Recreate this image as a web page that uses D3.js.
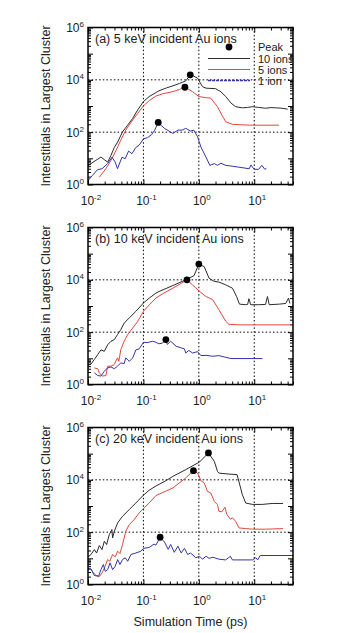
<!DOCTYPE html>
<html><head><meta charset="utf-8">
<script src="https://cdn.jsdelivr.net/npm/d3@7"></script>
<style>
html,body{margin:0;padding:0;background:#fff;}
svg text{font-family:"Liberation Sans",Arial,sans-serif;fill:#222;}
</style></head>
<body>
<svg id="chart" width="357" height="633"></svg>
<script>
// ---------------- DATA ----------------
const panelTitles = ["(a) 5 keV incident Au ions", "(b) 10 keV incident Au ions", "(c) 20 keV incident Au ions"];
const seriesNames = ["10 ions", "5 ions", "1 ion"];
const seriesColors = ["#2b2b2b", "#e0473f", "#3434a8"];
const xTickLabels = [{v:0.01,e:"-2"},{v:0.1,e:"-1"},{v:1,e:"0"},{v:10,e:"1"}];
const yTickLabels = [{v:1,e:"0"},{v:100,e:"2"},{v:1e4,e:"4"},{v:1e6,e:"6"}];

// Panel (a) 5 keV
const a_10ions = [[0.01,5.1],[0.0113,6.3],[0.0139,8.4],[0.0171,11.2],[0.0197,8.9],[0.0226,7.2],[0.026,13],[0.0298,26],[0.0343,42],[0.042,103],[0.052,186],[0.064,336],[0.0785,700],[0.1,1470],[0.127,2300],[0.168,3250],[0.19,3800],[0.26,4900],[0.34,5900],[0.45,7300],[0.58,9100],[0.70,15500],[0.80,14000],[0.95,11600],[1.05,8000],[1.16,5500],[1.35,4800],[2.0,4600],[2.5,3500],[3.06,2300],[3.8,1300],[4.6,940],[6.1,850],[7.5,880],[9.3,940],[12,880],[16,820],[20,870],[24.5,850],[30,830],[40,760]];
const a_5ions = [[0.016,1.9],[0.021,4],[0.026,8.4],[0.032,20],[0.039,49],[0.048,120],[0.064,290],[0.079,525],[0.1,1000],[0.127,1600],[0.168,2400],[0.22,2900],[0.34,3550],[0.45,4300],[0.56,5200],[0.77,3550],[1.0,2300],[1.3,2100],[1.64,1990],[2.17,940],[2.6,450],[3.06,250],[4.04,200],[6,190],[9.3,185],[28,185]];
const a_1ion = [[0.01,1.4],[0.012,2.2],[0.0149,3.7],[0.018,4],[0.0226,6.3],[0.027,11],[0.031,7.2],[0.034,4],[0.041,11],[0.047,9.7],[0.054,19],[0.062,15],[0.073,26],[0.084,32],[0.1,55],[0.119,62],[0.14,80],[0.16,120],[0.185,235],[0.21,180],[0.24,140],[0.29,110],[0.34,89],[0.42,120],[0.5,120],[0.58,140],[0.71,110],[0.81,120],[0.95,66],[1.09,27],[1.35,11],[1.58,5.4],[1.9,6.3],[2.17,5.4],[2.5,6.5],[3.06,5.4],[4,5],[5.3,4.6],[8.1,4],[8.7,5.6],[10,3.8],[12,3.8],[13.7,5.4],[15.5,3.8],[16.6,4.2]];
const a_peaks = [[0.70,15500],[0.56,5200],[0.185,235]];

// Panel (b) 10 keV
const b_10ions = [[0.01,5.5],[0.0113,6],[0.013,9],[0.015,14],[0.0171,21],[0.0197,18.6],[0.0226,33],[0.026,45],[0.0298,52],[0.034,80],[0.039,124],[0.045,224],[0.0556,350],[0.073,620],[0.1,1300],[0.127,2000],[0.168,3100],[0.19,3560],[0.34,6050],[0.58,10000],[0.82,14500],[1.0,40000],[1.25,32000],[1.53,11500],[1.9,8700],[2.3,8200],[3.06,6400],[4.04,4800],[4.8,2300],[5.4,1180],[7.0,1120],[7.6,1150],[8.0,1900],[8.6,1120],[12,1120],[16,1150],[17.3,2300],[18.6,1120],[28.5,1180],[37,1250],[41.5,2000],[44,1250]];
const b_5ions = [[0.013,4.3],[0.015,4],[0.016,2.8],[0.018,2.1],[0.021,2.2],[0.0226,5],[0.026,5],[0.0298,5.8],[0.034,10.4],[0.036,7.7],[0.039,21],[0.045,45],[0.052,80],[0.064,144],[0.079,260],[0.1,620],[0.127,1100],[0.168,2000],[0.22,2900],[0.34,4800],[0.61,10000],[0.77,6400],[1.0,3800],[1.35,2300],[1.78,1740],[2.3,720],[3.06,260],[3.5,200],[5.3,190],[50,190]];
const b_1ion = [[0.013,2.8],[0.015,2.2],[0.0171,2.1],[0.0197,3.2],[0.0226,4.3],[0.026,4.7],[0.0298,4],[0.034,5],[0.039,6.7],[0.045,6.3],[0.048,10.4],[0.0556,7.7],[0.064,10.4],[0.073,21],[0.084,23],[0.1,41],[0.12,40],[0.146,45],[0.168,41],[0.19,36],[0.22,38],[0.254,52],[0.27,34],[0.31,45],[0.39,29],[0.48,25],[0.55,23],[0.58,16],[0.66,20],[0.77,16],[0.95,18],[1.09,12.7],[1.35,13],[1.78,12],[2.3,12.7],[3.8,9.8],[14,9.8]];
const b_peaks = [[1.0,40000],[0.61,10000],[0.254,52]];

// Panel (c) 20 keV
const c_10ions = [[0.01,11.4],[0.0113,13.9],[0.013,21.6],[0.0143,16],[0.016,30.7],[0.0179,21.6],[0.0197,45],[0.0217,33.6],[0.0242,81],[0.027,126],[0.0278,60],[0.0298,108],[0.0343,227],[0.042,405],[0.0556,730],[0.073,1300],[0.1,2600],[0.127,4000],[0.168,5800],[0.26,9500],[0.34,13600],[0.58,24500],[1.03,48000],[1.49,107000],[1.9,51000],[2.17,21000],[2.3,18000],[3.5,16600],[4.9,15800],[6.1,2700],[7,1300],[9.3,1150],[14,1150],[21,1250],[33,1250]];
const c_5ions = [[0.01,4],[0.0113,3.7],[0.0139,2.2],[0.016,2],[0.018,2.8],[0.0204,5],[0.0226,9],[0.0248,7.7],[0.0278,14],[0.031,11.4],[0.0343,18.7],[0.0377,15.2],[0.042,33.6],[0.048,108],[0.0556,195],[0.068,300],[0.084,550],[0.1,800],[0.127,1300],[0.168,2500],[0.26,3800],[0.34,4900],[0.58,11800],[0.8,22400],[0.95,18000],[1.09,9300],[1.25,7600],[1.43,3600],[1.64,3150],[1.9,1500],[2.17,1130],[2.3,630],[2.6,600],[2.96,900],[3.2,480],[3.7,310],[4.04,355],[4.6,260],[5.3,145],[7,137],[9.3,130],[16,130],[33,137]];
const c_1ion = [[0.01,4],[0.0113,4],[0.013,2.2],[0.0156,2.1],[0.0171,3.7],[0.0189,5.8],[0.0205,3.2],[0.0226,3.7],[0.025,6.7],[0.0278,3.7],[0.031,5],[0.0343,9],[0.0377,5.8],[0.042,9],[0.047,10.4],[0.052,7.7],[0.0595,14],[0.073,16],[0.09,18.7],[0.1,24],[0.127,26],[0.155,35],[0.168,32],[0.2,64],[0.24,42],[0.28,22],[0.31,34],[0.36,17],[0.42,29],[0.48,16],[0.55,24],[0.63,14],[0.71,16],[0.88,10.5],[1.03,12],[1.16,9.3],[1.35,12],[1.53,10],[1.78,11],[2.3,9.3],[3.06,8.7],[3.7,12],[4.04,8.7],[9.3,8.7],[10.7,10.5],[11.5,8.7],[12.8,12.8],[50,12.8]];
const c_peaks = [[1.49,107000],[0.8,22400],[0.2,64]];

// ---------------- LAYOUT ----------------
const svg = d3.select("#chart");
const L = 88, R = 293, PH = 157;
const tops = [27.5, 227.5, 427.5];
const panels = [
  {title: panelTitles[0], series:[a_10ions,a_5ions,a_1ion], peaks:a_peaks},
  {title: panelTitles[1], series:[b_10ions,b_5ions,b_1ion], peaks:b_peaks},
  {title: panelTitles[2], series:[c_10ions,c_5ions,c_1ion], peaks:c_peaks}
];
const x = d3.scaleLog().domain([0.01, 50]).range([L, R]);

function decadeTicks(lo, hi){
  const major=[], minor=[];
  for(let e=Math.floor(Math.log10(lo)); e<=Math.ceil(Math.log10(hi)); e++){
    const b = Math.pow(10,e);
    if(b>=lo*0.999 && b<=hi*1.001) major.push(b);
    for(let m=2;m<=9;m++){ const v=m*b; if(v>=lo && v<=hi*1.001) minor.push(v); }
  }
  return {major, minor};
}
const xt = decadeTicks(0.01, 50);
const yt = decadeTicks(1, 1e6);

panels.forEach((p, i) => {
  const top = tops[i], bot = top + PH;
  const y = d3.scaleLog().domain([1, 1e6]).range([bot, top]);
  const g = svg.append("g");

  const cid = "clip"+i;
  svg.append("clipPath").attr("id",cid).append("rect")
    .attr("x",L).attr("y",top).attr("width",R-L).attr("height",PH);

  // grid
  const gg = g.append("g").attr("stroke","#000").attr("stroke-width",1).attr("stroke-dasharray","1.5,2.2");
  [0.1,1,10].forEach(v => gg.append("line").attr("x1",x(v)).attr("x2",x(v)).attr("y1",top).attr("y2",bot));
  [100,1e4].forEach(v => gg.append("line").attr("x1",L).attr("x2",R).attr("y1",y(v)).attr("y2",y(v)));

  // ticks via d3 axes (inward)
  const axG = g.append("g").attr("class","ax");
  axG.append("g").attr("transform",`translate(0,${bot})`).call(d3.axisBottom(x).tickValues(xt.major).tickSize(-5).tickFormat(""));
  axG.append("g").attr("transform",`translate(0,${bot})`).call(d3.axisBottom(x).tickValues(xt.minor).tickSize(-3).tickFormat(""));
  axG.append("g").attr("transform",`translate(0,${top})`).call(d3.axisTop(x).tickValues(xt.major).tickSize(-5).tickFormat(""));
  axG.append("g").attr("transform",`translate(0,${top})`).call(d3.axisTop(x).tickValues(xt.minor).tickSize(-3).tickFormat(""));
  axG.append("g").attr("transform",`translate(${L},0)`).call(d3.axisLeft(y).tickValues(yt.major).tickSize(-5).tickFormat(""));
  axG.append("g").attr("transform",`translate(${L},0)`).call(d3.axisLeft(y).tickValues(yt.minor).tickSize(-3).tickFormat(""));
  axG.append("g").attr("transform",`translate(${R},0)`).call(d3.axisRight(y).tickValues(yt.major).tickSize(-5).tickFormat(""));
  axG.append("g").attr("transform",`translate(${R},0)`).call(d3.axisRight(y).tickValues(yt.minor).tickSize(-3).tickFormat(""));
  axG.selectAll(".domain").remove();
  axG.selectAll("line").attr("stroke","#000").attr("stroke-width",1);

  // series
  const line = d3.line().x(d=>x(d[0])).y(d=>y(d[1]));
  const sg = g.append("g").attr("clip-path",`url(#${cid})`);
  p.series.forEach((s, k) => {
    sg.append("path").datum(s).attr("d",line).attr("fill","none")
      .attr("stroke",seriesColors[k]).attr("stroke-width",1).attr("stroke-linejoin","round");
  });
  sg.selectAll("circle.pk").data(p.peaks).enter().append("circle")
    .attr("cx",d=>x(d[0])).attr("cy",d=>y(d[1])).attr("r",3.4).attr("fill","#000");

  // frame
  g.append("rect").attr("x",L).attr("y",top).attr("width",R-L).attr("height",PH)
    .attr("fill","none").attr("stroke","#000").attr("stroke-width",1.5);

  // title
  g.append("text").attr("x",95).attr("y",top+15).attr("font-size",12.5).text(p.title);

  // y tick labels
  yTickLabels.forEach(t => {
    const tx = g.append("text").attr("x",84).attr("y",y(t.v)+4.5).attr("text-anchor","end").attr("font-size",12);
    tx.append("tspan").text("10");
    tx.append("tspan").attr("dy",-5).attr("font-size",8).text(t.e);
  });
  // x tick labels
  xTickLabels.forEach(t => {
    const tx = g.append("text").attr("x",x(t.v)+3).attr("y",bot+20).attr("text-anchor","middle").attr("font-size",12);
    tx.append("tspan").text("10");
    tx.append("tspan").attr("dy",-5).attr("font-size",8).text(t.e);
  });

  // y axis title
  g.append("text").attr("transform",`translate(50,${top+PH/2}) rotate(-90)`)
    .attr("text-anchor","middle").attr("font-size",12.5).text("Interstitials in Largest Cluster");

  // legend (panel a)
  if(i===0){
    const lg = g.append("g");
    lg.append("circle").attr("cx",229).attr("cy",top+19.5).attr("r",3.4).attr("fill","#000");
    lg.append("text").attr("x",258).attr("y",top+23).attr("font-size",11).text("Peak");
    seriesNames.forEach((n,k)=>{
      const yy = top + 31 + k*11;
      lg.append("line").attr("x1",208).attr("x2",250).attr("y1",yy).attr("y2",yy)
        .attr("stroke",seriesColors[k]).attr("stroke-width",k===2?1.5:1)
        .attr("stroke-dasharray",k===2?"3,1":null);
      lg.append("text").attr("x",258).attr("y",yy+4).attr("font-size",11).text(n);
    });
  }
});

// x axis title
svg.append("text").attr("x",(L+R)/2).attr("y",626).attr("text-anchor","middle").attr("font-size",12.5).text("Simulation Time (ps)");
</script>
</body></html>
